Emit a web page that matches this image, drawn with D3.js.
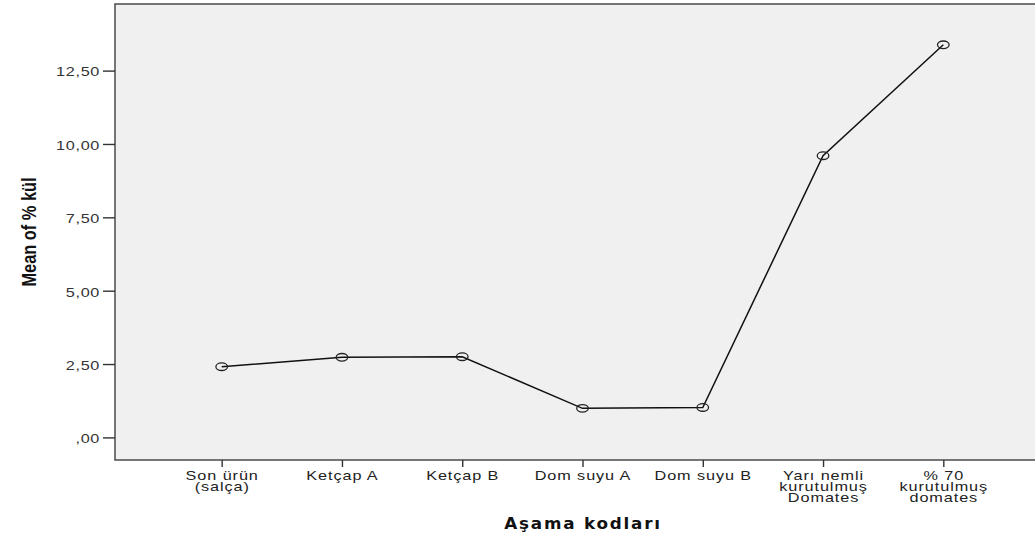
<!DOCTYPE html>
<html>
<head>
<meta charset="utf-8">
<script src="https://cdn.jsdelivr.net/npm/d3@7"></script>
<style>
html,body{margin:0;padding:0;background:#fff;}
svg{display:block;}
</style>
</head>
<body>
<svg id="chart" width="1035" height="542"></svg>
<script>
const categories = ["Son ürün\n(salça)", "Ketçap A", "Ketçap B", "Dom suyu A", "Dom suyu B", "Yarı nemli\nkurutulmuş\nDomates", "% 70\nkurutulmuş\ndomates"];
const values = [2.41, 2.73, 2.75, 0.99, 1.02, 9.60, 13.38];
const yTicks = [0, 2.5, 5, 7.5, 10, 12.5];
const yTickLabels = [",00", "2,50", "5,00", "7,50", "10,00", "12,50"];
const xTitle = "Aşama kodları";
const yTitle = "Mean of % kül";

(function () {
const svg = d3.select("#chart");
const pLeft = 115, pTop = 4, pRight = 1050, pBottom = 460;

const x = d3.scalePoint().domain(categories).range([pLeft, pRight]).padding(0.887);
const y = d3.scaleLinear().domain([-0.77, 14.77]).range([pBottom, pTop]);

svg.append("rect").attr("x", pLeft).attr("y", pTop).attr("width", pRight - pLeft).attr("height", pBottom - pTop)
  .attr("fill", "#f0f0f0").attr("stroke", "#555").attr("stroke-width", 1.6);

// y axis
const yAxis = svg.append("g").attr("transform", `translate(${pLeft},0)`)
  .call(d3.axisLeft(y).tickValues(yTicks).tickFormat("").tickSize(12));
yAxis.select(".domain").remove();
yAxis.selectAll(".tick line").attr("stroke", "#333").attr("stroke-width", 1.4);
yAxis.selectAll(".tick").each(function(d, i) {
  d3.select(this).append("text")
    .attr("transform", "translate(-15,1) scale(1.3,1)")
    .attr("text-anchor", "end").attr("dy", "0.35em")
    .attr("font-family", "Liberation Sans, Arial, sans-serif").attr("font-size", 12.5)
    .attr("fill", "#333").attr("letter-spacing", 0.5)
    .text(yTickLabels[i]);
});

// x axis
const xAxis = svg.append("g").attr("transform", `translate(0,${pBottom})`)
  .call(d3.axisBottom(x).tickSize(7).tickFormat(""));
xAxis.select(".domain").remove();
xAxis.selectAll(".tick line").attr("stroke", "#333").attr("stroke-width", 1.4);
xAxis.selectAll(".tick").each(function(d) {
  const lines = d.split("\n");
  const t = d3.select(this).append("text").attr("text-anchor", "middle")
    .attr("transform", "scale(1.3,1)")
    .attr("font-family", "Liberation Sans, Arial, sans-serif").attr("font-size", 12.5).attr("fill", "#222")
    .attr("letter-spacing", 0.7);
  lines.forEach((l, i) => t.append("tspan").attr("x", 0).attr("y", 20.5 + i * 11).text(l));
});

// line
svg.append("path").datum(values)
  .attr("d", d3.line().x((d, i) => x(categories[i])).y(d => y(d)))
  .attr("fill", "none").attr("stroke", "#111").attr("stroke-width", 1.5);

svg.selectAll("ellipse.pt").data(values).enter().append("ellipse").attr("class", "pt")
  .attr("cx", (d, i) => x(categories[i])).attr("cy", d => y(d))
  .attr("rx", 5.8).attr("ry", 3.8)
  .attr("fill", "none").attr("stroke", "#222").attr("stroke-width", 1.3);

// titles
svg.append("text").attr("transform", "translate(583,529) scale(1.12,1)").attr("text-anchor", "middle")
  .attr("font-family", "DejaVu Sans, Verdana, sans-serif").attr("font-weight", "bold").attr("font-size", 15)
  .attr("fill", "#111").attr("letter-spacing", 1.6).text(xTitle);

svg.append("text").attr("transform", "translate(36,232) rotate(-90) scale(0.82,1)").attr("text-anchor", "middle")
  .attr("font-family", "Liberation Sans, Arial, sans-serif").attr("font-weight", "bold").attr("font-size", 20)
  .attr("fill", "#111").text(yTitle);
})();
</script>
</body>
</html>
